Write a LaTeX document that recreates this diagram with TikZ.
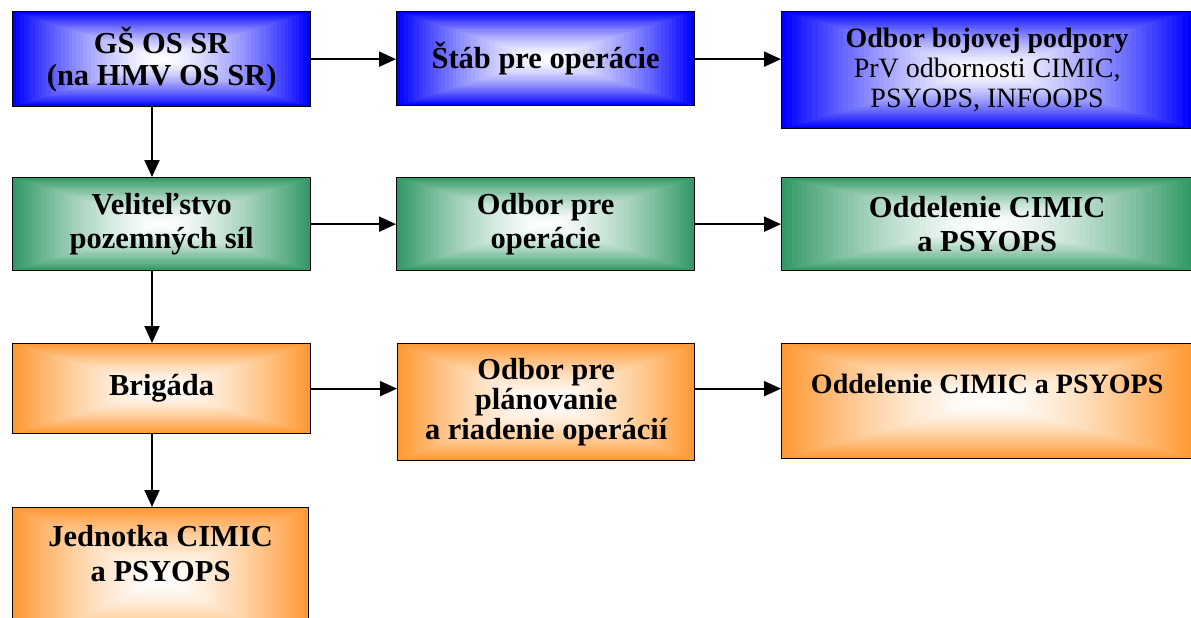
\documentclass[tikz,border=0pt]{standalone}
\usepackage{fontspec}
\setmainfont{Liberation Serif}
\usetikzlibrary{arrows.meta,calc}
\definecolor{cblue}{HTML}{0000FF}
\definecolor{cgreen}{HTML}{339966}
\definecolor{corange}{HTML}{FF9933}
\newcommand\gradfill[1]{%
  \foreach \k in {0,...,39}{%
    \pgfmathsetmacro{\gfr}{\k/80}%
    \pgfmathsetmacro{\gpc}{100*(1-\k/40)^1.5}%
    \fill[#1!\gpc!white]
      ($(path picture bounding box.south west)!\gfr!(path picture bounding box.north east)$)
      rectangle
      ($(path picture bounding box.north east)!\gfr!(path picture bounding box.south west)$);
  }}
\tikzset{
  txt/.style={inner sep=0pt, align=center, text=black,
    font=\bfseries\fontsize{30.5}{32}\selectfont},
  gbox/.style={txt, draw=black, line width=1.3pt, anchor=north west,
    path picture={\gradfill{#1}}},
  arr/.style={draw=black, line width=2pt, -{Triangle[length=17pt,width=15pt]}}
}
\begin{document}
\begin{tikzpicture}[x=1pt,y=-1pt]
\useasboundingbox (0,0) rectangle (1191,618);
\clip (0,0) rectangle (1191,618);
% row 1
\node[gbox=cblue, minimum width=298pt, minimum height=95pt] (A1) at (12,11)
  {GŠ OS SR\\(na HMV OS SR)};
\node[gbox=cblue, minimum width=298pt, minimum height=94pt] (B1) at (396,11)
  {Štáb pre operácie};
\node[gbox=cblue, minimum width=411pt, minimum height=117pt,
  font=\bfseries\fontsize{28}{30}\selectfont] (C1) at (781,11)
  {Odbor bojovej podpory\\{\mdseries PrV odbornosti CIMIC,}\\{\mdseries PSYOPS, INFOOPS}};
% row 2
\node[gbox=cgreen, minimum width=298pt, minimum height=93pt,
  font=\bfseries\fontsize{30.5}{34}\selectfont] (A2) at (12,177)
  {Veliteľstvo\\pozemných síl};
\node[gbox=cgreen, minimum width=298pt, minimum height=93pt,
  font=\bfseries\fontsize{30.5}{34}\selectfont] (B2) at (396,177)
  {Odbor pre\\operácie};
\node[gbox=cgreen, minimum width=411pt, minimum height=93pt,
  font=\bfseries\fontsize{30.5}{34}\selectfont] (C2) at (781,177)
  {Oddelenie CIMIC\\a PSYOPS};
% row 3
\node[gbox=corange, minimum width=298pt, minimum height=90pt] (A3) at (12,343)
  {Brigáda};
\node[gbox=corange, minimum width=297pt, minimum height=117pt,
  font=\bfseries\fontsize{30.5}{30}\selectfont] (B3) at (397,343)
  {Odbor pre\\plánovanie\\a riadenie operácií};
\node[gbox=corange, minimum width=411pt, minimum height=115pt] (C3) at (781,343) {};
\node[txt, anchor=north, yshift=-31pt, font=\bfseries\fontsize{28}{32}\selectfont] (C3t) at (C3.north)
  {Oddelenie CIMIC a PSYOPS};
% row 4
\node[gbox=corange, minimum width=296pt, minimum height=143pt] (A4) at (12,507) {};
\node[txt, anchor=north, yshift=-18pt, font=\bfseries\fontsize{30.5}{35}\selectfont] (A4t) at (A4.north)
  {Jednotka CIMIC\\a PSYOPS};
% connectors
\coordinate (vx) at (152,0);
\draw[arr] (A1.south -| vx) -- (A2.north -| vx);
\draw[arr] (A2.south -| vx) -- (A3.north -| vx);
\draw[arr] (A3.south -| vx) -- (A4.north -| vx);
\draw[arr] (A1.east) -- (B1.west |- A1.east);
\draw[arr] (B1.east |- A1.east) -- (C1.west |- A1.east);
\draw[arr] (A2.east) -- (B2.west |- A2.east);
\draw[arr] (B2.east |- A2.east) -- (C2.west |- A2.east);
\draw[arr] (A3.east) -- (B3.west |- A3.east);
\draw[arr] (B3.east |- A3.east) -- (C3.west |- A3.east);
\end{tikzpicture}
\end{document}
